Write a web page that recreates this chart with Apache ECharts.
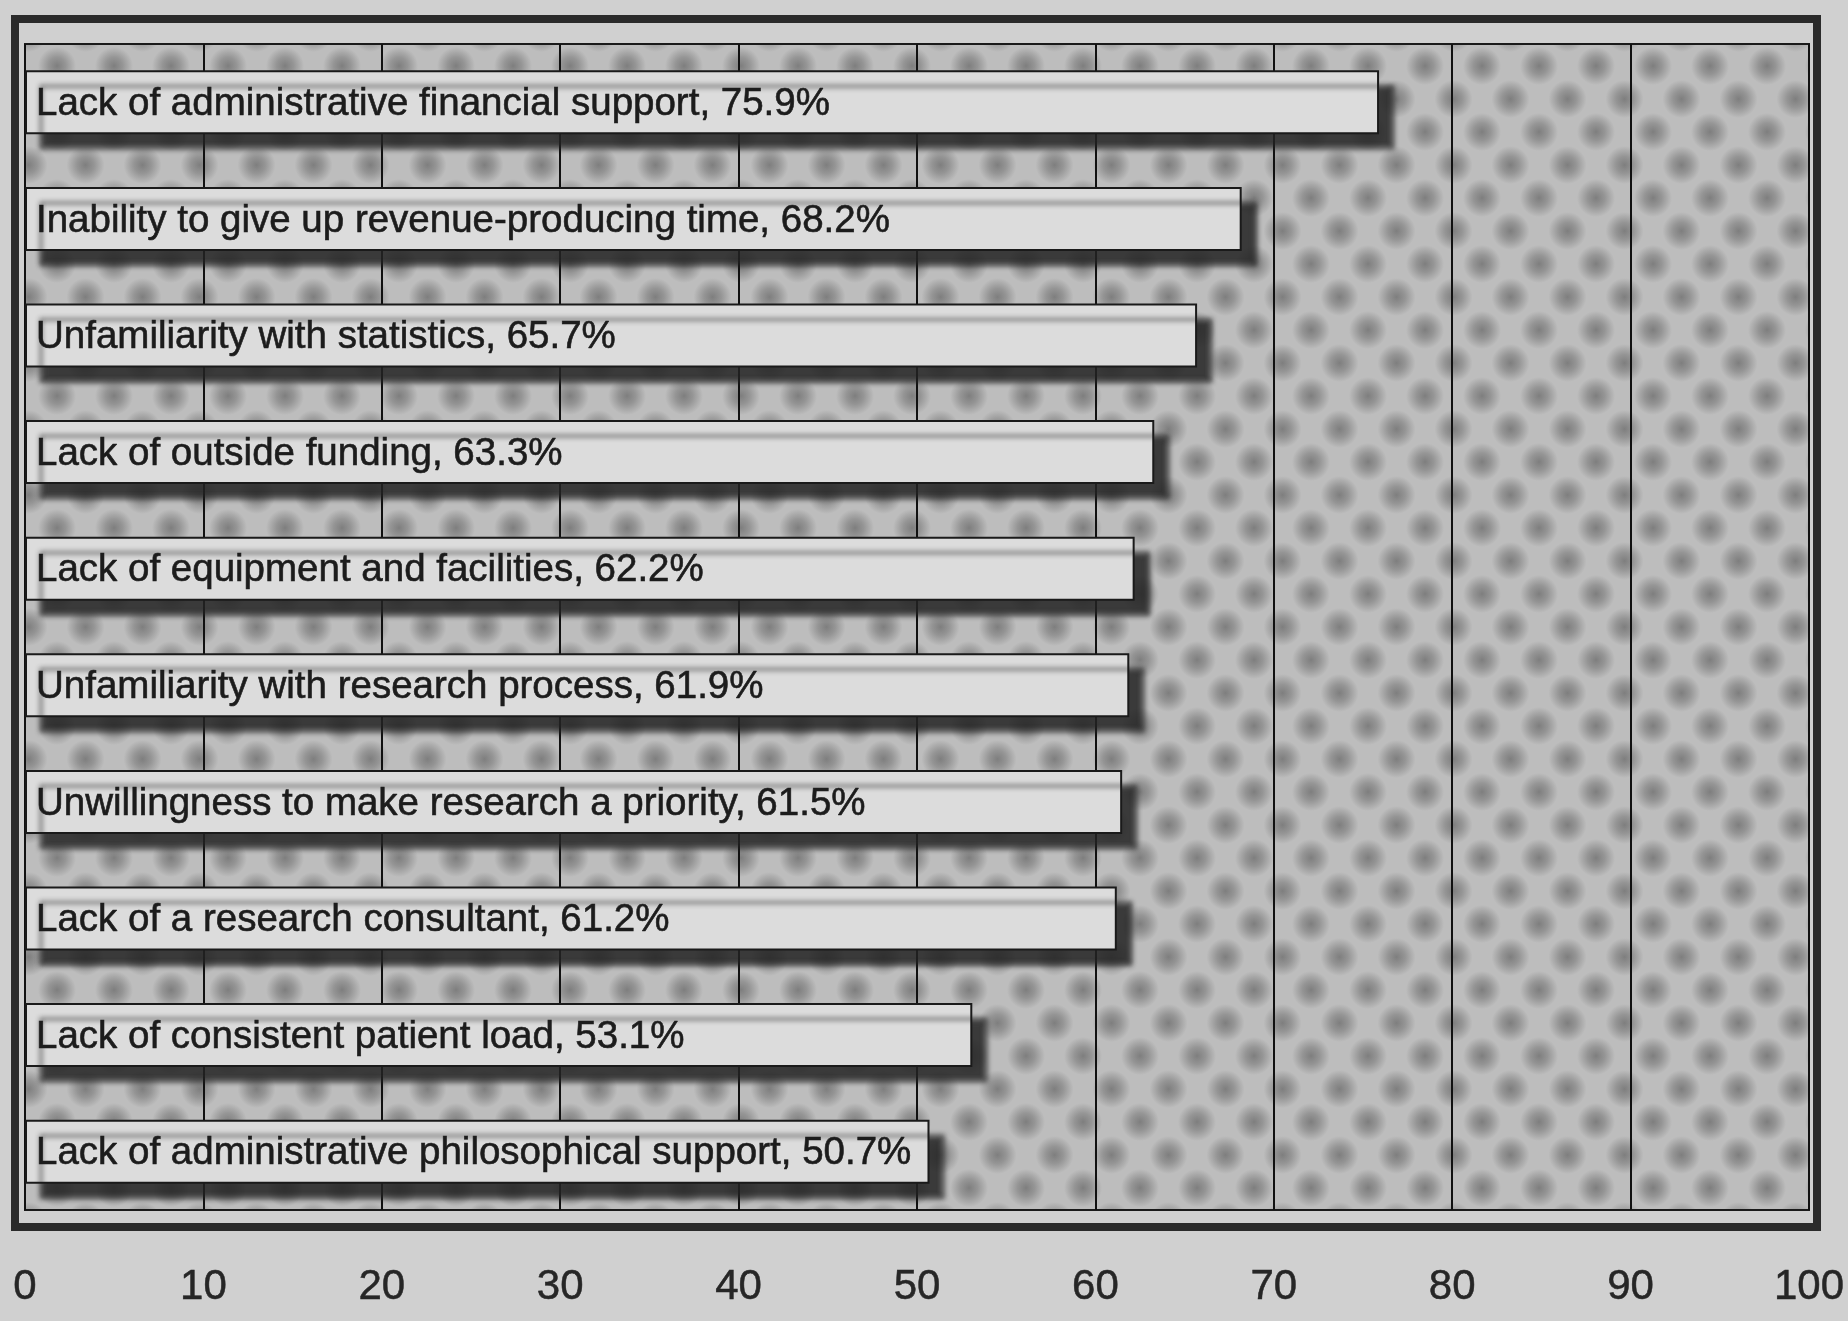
<!DOCTYPE html>
<html>
<head>
<meta charset="utf-8">
<title>Barriers to research</title>
<script src="https://cdn.jsdelivr.net/npm/echarts@6/dist/echarts.min.js"></script>
<style>
  html, body { margin: 0; padding: 0; background: #d0d0d0; }
  #chart { width: 1848px; height: 1321px; }
</style>
</head>
<body>
<div id="chart"></div>
<script>
const categories = [
  'Lack of administrative financial support',
  'Inability to give up revenue-producing time',
  'Unfamiliarity with statistics',
  'Lack of outside funding',
  'Lack of equipment and facilities',
  'Unfamiliarity with research process',
  'Unwillingness to make research a priority',
  'Lack of a research consultant',
  'Lack of consistent patient load',
  'Lack of administrative philosophical support'
]
const percents = [75.9, 68.2, 65.7, 63.3, 62.2, 61.9, 61.5, 61.2, 53.1, 50.7]
const xTicks = [0, 10, 20, 30, 40, 50, 60, 70, 80, 90, 100]

// soft halftone dots like the printed screen behind the bars
function dotPattern() {
  const w = 57, h = 66
  const c = document.createElement('canvas')
  c.width = w
  c.height = h
  const ctx = c.getContext('2d')
  ctx.fillStyle = '#bdbdbd'
  ctx.fillRect(0, 0, w, h)
  const dots = [[0, 0], [w, 0], [0, h], [w, h], [w / 2, h / 2]]
  dots.forEach(([x, y]) => {
    const g = ctx.createRadialGradient(x, y, 0, x, y, 19)
    g.addColorStop(0, 'rgba(100,100,100,0.7)')
    g.addColorStop(0.45, 'rgba(100,100,100,0.45)')
    g.addColorStop(1, 'rgba(100,100,100,0)')
    ctx.fillStyle = g
    ctx.fillRect(x - 20, y - 20, 40, 40)
  })
  return c
}

const font = '"Liberation Sans Narrow", "Liberation Sans", Arial, sans-serif'

const chart = echarts.init(document.getElementById('chart'))
chart.setOption({
  backgroundColor: '#d0d0d0',
  animation: false,
  graphic: [
    {
      type: 'rect',
      shape: { x: 15, y: 19, width: 1802, height: 1208 },
      style: { fill: 'none', stroke: '#2a2a2a', lineWidth: 8 },
      z: -1
    }
  ],
  grid: {
    left: 25,
    right: 39,
    top: 44,
    bottom: 111,
    show: true,
    backgroundColor: { image: dotPattern(), repeat: 'repeat' },
    borderColor: '#1a1a1a',
    borderWidth: 2
  },
  xAxis: {
    type: 'value',
    min: 0,
    max: 100,
    interval: 10,
    axisLine: { show: false },
    axisTick: { show: false },
    axisLabel: {
      margin: 56,
      color: '#262626',
      fontSize: 42,
      fontFamily: font,
      textBorderColor: '#262626',
      textBorderWidth: 0.5,
      formatter: (v) => (xTicks.includes(v) ? String(v) : '')
    },
    splitLine: { lineStyle: { color: '#111', width: 2 } }
  },
  yAxis: {
    type: 'category',
    inverse: true,
    data: categories,
    axisLine: { show: false },
    axisTick: { show: false },
    axisLabel: { show: false }
  },
  series: [
    {
      type: 'bar',
      data: percents,
      barWidth: 64,
      itemStyle: {
        color: '#dcdcdc',
        borderColor: '#1a1a1a',
        borderWidth: 2,
        shadowColor: 'rgba(35,35,35,0.85)',
        shadowBlur: 5,
        shadowOffsetX: 15,
        shadowOffsetY: 15
      },
      label: {
        show: true,
        position: 'insideLeft',
        offset: [6, 2],
        color: '#1c1c1c',
        fontSize: 38.5,
        fontFamily: font,
        textBorderColor: '#1c1c1c',
        textBorderWidth: 0.6,
        formatter: (p) => `${categories[p.dataIndex]}, ${percents[p.dataIndex]}%`
      }
    }
  ]
})
window.addEventListener('resize', () => chart.resize())
</script>
</body>
</html>
